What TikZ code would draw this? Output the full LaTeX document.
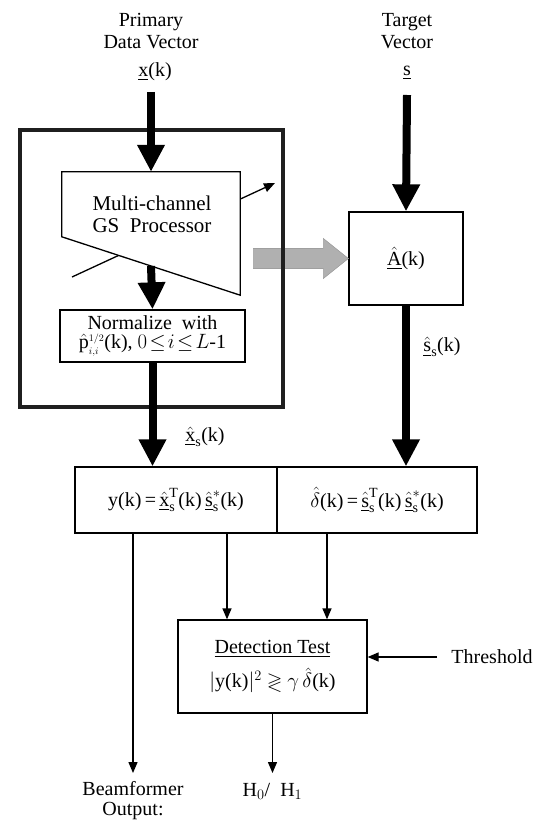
\documentclass[tikz,border=0pt]{standalone}
\usepackage{fontspec}
\usepackage{amssymb}
\setmainfont{Liberation Serif}
\usetikzlibrary{arrows.meta,calc}
\begin{document}
\begin{tikzpicture}[x=1pt,y=-1pt,
  every node/.style={font=\fontsize{20}{22}\selectfont, inner sep=0pt},
  boxline/.style={draw, line width=1.3pt},
  box/.style={boxline, rectangle, fill=white},
  big/.style={line width=8pt, -{Triangle[width=26pt,length=27pt]}},
  thinarr/.style={line width=1.3pt, -{Triangle[width=9pt,length=11pt]}},
  frame/.style={line width=4.5pt, draw=black!88},
  feed/.style={fill=gray!62, draw=gray!75, line width=0.6pt}]
\useasboundingbox (0,0) rectangle (539,821);

% inputs
\node[align=center] (prim) at (151,31) {Primary\\Data Vector};
\node (xk) at (155,72) {$\underline{\mathrm{x}}$(k)};
\node[align=center] (targ) at (407,31) {Target\\Vector};
\node (s) at (407,73) {$\underline{\mathrm{s}}$};
\coordinate (xstart) at (151,92);
\coordinate (sstart) at (407,95);

% GS processor
\node[minimum width=178pt, minimum height=123pt] (gsbox) at (151,233.5) {};
\coordinate (gsbl) at ($(gsbox.north west)+(0,65)$);
\coordinate (gsbm) at ($(gsbl)!0.5!(gsbox.south east)$);
\coordinate (adin) at (72,277);
\coordinate (adout) at (275,183);
\draw[thinarr] (adin) -- (adout);
\draw[boxline, fill=white] (gsbox.north west) -- (gsbox.north east) -- (gsbox.south east) -- (gsbl) -- cycle;
\node[align=center, font=\fontsize{21}{22}\selectfont] (gstext) at (152,214) {Multi-channel\\GS\ \ Processor};

% normalize
\node[box, minimum width=185pt, minimum height=52pt, align=center] (norm) at (152.5,336)
  {Normalize\ \ with\\[-3pt]$\hat{\mathrm{p}}^{\scriptscriptstyle 1/2}_{\scriptscriptstyle i,i}$(k),\ $0\!\le\! i\!\le\! L$-1};

% A box
\node[box, minimum width=114pt, minimum height=93pt] (Abox) at (406,258.5) {$\underline{\hat{\mathrm{A}}}$(k)};

% shaded feed arrow
\fill[feed] (Abox.west) -- ++(-25,-20) -- ++(0,10) -- ++(-70,0) -- ++(0,20) -- ++(70,0) -- ++(0,10) -- cycle;

% frame
\draw[frame] (20,130) rectangle (283,407);

% bottom boxes
\node[box, minimum width=202pt, minimum height=66pt] (ybox) at (176,500)
  {y(k)\,=\,$\underline{\hat{\mathrm{x}}}^{\mathrm{T}}_{\mathrm{s}}$(k)\,$\underline{\hat{\mathrm{s}}}^{*}_{\mathrm{s}}$(k)};
\node[box, minimum width=200pt, minimum height=66pt] (dbox) at (377,500)
  {$\hat{\delta}$(k)\,=\,$\underline{\hat{\mathrm{s}}}^{\mathrm{T}}_{\mathrm{s}}$(k)\,$\underline{\hat{\mathrm{s}}}^{*}_{\mathrm{s}}$(k)};

% labels
\node (xslab) at (205,437) {$\underline{\hat{\mathrm{x}}}_{\mathrm{s}}$(k)};
\node (sslab) at (442,347) {$\underline{\hat{\mathrm{s}}}_{\mathrm{s}}$(k)};

% thick arrows
\draw[big] (xstart) -- (gsbox.north);
\draw[big] (gsbm) -- (norm.north);
\draw[big] (norm.south) -- (norm.south |- ybox.north);
\draw[big] (sstart) -- (Abox.north);
\draw[big] (Abox.south) -- (Abox.south |- dbox.north);

% detection
\node[box, minimum width=189pt, minimum height=93pt, align=center] (det) at (272.5,666.5)
  {\underline{Detection Test}\\[9pt]$|$y(k)$|^{2}$ $\gtrless$ $\gamma\,\hat{\delta}$(k)};
\coordinate (c1) at (227,0);
\coordinate (c2) at (327,0);
\draw[thinarr] (ybox.south -| c1) -- (det.north -| c1);
\draw[thinarr] (dbox.south -| c2) -- (det.north -| c2);

\node (thr) at (492,657) {Threshold};
\coordinate (thrs) at (437,657);
\draw[thinarr] (thrs) -- (det.east |- thrs);

\node (hh) at (272.5,791) {H$_{0}$/\ \ H$_{1}$};
\coordinate (hha) at (272.5,773);
\draw[thinarr] (det.south) -- (hha);

\node[align=center] (bf) at (133,801) {Beamformer\\[-2pt]Output:};
\coordinate (bfa) at (133,773);
\draw[thinarr] (ybox.south -| bfa) -- (bfa);
\end{tikzpicture}
\end{document}
